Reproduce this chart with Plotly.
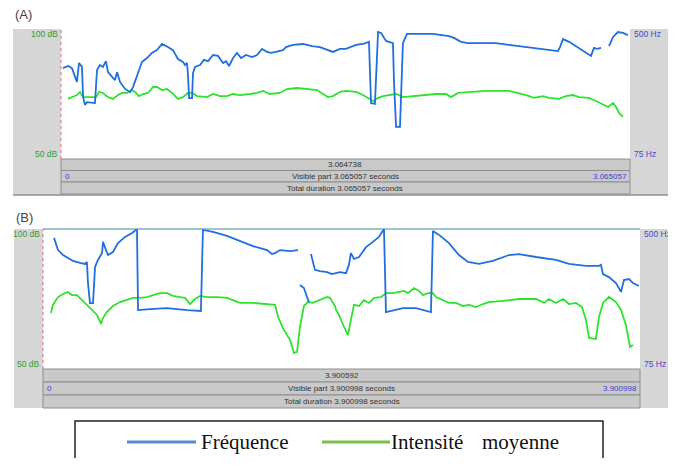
import plotly.graph_objects as go

# The page body has an 8px default margin, so the figure is sized to fit inside the window.
OFF = 8
FW, FH = 662, 450

# ---------------- Panel A data ----------------
a_freq_t = [0.011, 0.038, 0.059, 0.081, 0.086, 0.097, 0.113, 0.119, 0.129, 0.140, 0.183, 0.194, 0.210, 0.226,
            0.242, 0.253, 0.280, 0.291, 0.302, 0.318, 0.345, 0.372, 0.388, 0.409, 0.436, 0.463, 0.490, 0.517,
            0.544, 0.576, 0.603, 0.630, 0.657, 0.668, 0.679, 0.684, 0.690, 0.706, 0.711, 0.722, 0.749, 0.770,
            0.792, 0.819, 0.846, 0.873, 0.889, 0.905, 0.927, 0.948, 0.970, 0.997, 1.029, 1.056, 1.083, 1.110,
            1.131, 1.158, 1.196, 1.212, 1.250, 1.304, 1.352, 1.395, 1.433, 1.465, 1.503, 1.535, 1.589, 1.627,
            1.659, 1.670, 1.691, 1.708, 1.724, 1.751, 1.788, 1.794, 1.805, 1.826, 1.842, 1.864, 1.929, 2.004,
            2.090, 2.117, 2.155, 2.192, 2.252, 2.343, 2.413, 2.505, 2.596, 2.629, 2.677, 2.688, 2.704, 2.737,
            2.790, 2.844, 2.855, 2.871, 2.887, 2.909, 2.930, 2.952, 2.974, 3.000, 3.027, 3.054]
a_freq_hz = [372, 379, 372, 333, 327, 389, 376, 278, 252, 261, 258, 366, 382, 376,
             395, 359, 340, 333, 359, 327, 304, 294, 310, 343, 392, 405, 422, 431,
             451, 441, 431, 402, 392, 382, 389, 350, 274, 274, 356, 376, 382, 399,
             395, 415, 412, 389, 395, 379, 405, 422, 405, 415, 408, 415, 435, 425,
             422, 425, 431, 441, 448, 451, 444, 441, 431, 425, 435, 435, 448, 451,
             458, 258, 255, 490, 487, 461, 454, 323, 180, 180, 454, 484, 484, 484,
             477, 471, 458, 454, 454, 454, 448, 441, 435, 431, 428, 441, 467, 458,
             438, 415, 412, 438, 435, 438, None, 444, 474, 490, 487, 480]

a_int_t = [0.038, 0.065, 0.086, 0.102, 0.119, 0.156, 0.189, 0.205, 0.226, 0.253, 0.280, 0.307, 0.329, 0.356,
           0.382, 0.399, 0.420, 0.442, 0.469, 0.496, 0.517, 0.544, 0.571, 0.598, 0.630, 0.657, 0.684, 0.706,
           0.733, 0.786, 0.819, 0.857, 0.894, 0.927, 0.964, 1.018, 1.056, 1.088, 1.126, 1.180, 1.217, 1.271,
           1.325, 1.379, 1.411, 1.438, 1.465, 1.503, 1.535, 1.589, 1.627, 1.659, 1.681, 1.708, 1.735, 1.767,
           1.805, 1.842, 1.912, 2.020, 2.074, 2.101, 2.139, 2.198, 2.289, 2.413, 2.505, 2.548, 2.596, 2.629,
           2.683, 2.720, 2.758, 2.790, 2.844, 2.882, 2.920, 2.947, 2.974, 2.990, 3.006, 3.027]
a_int_db = [73.1, 73.8, 74.6, 75.8, 73.8, 73.8, 73.8, 75.8, 75.4, 73.8, 73.1, 74.6, 75.4, 75.4,
            76.5, 75.8, 74.2, 75.0, 75.4, 77.7, 77.7, 76.5, 76.9, 75.4, 73.1, 73.8, 75.4, 75.4,
            74.2, 73.8, 75.0, 74.2, 74.2, 75.0, 74.6, 75.0, 75.4, 76.2, 75.0, 75.4, 76.9, 77.3,
            76.9, 76.5, 75.0, 73.8, 74.2, 75.8, 76.2, 75.8, 74.6, 73.1, 72.3, 73.5, 74.2, 74.6,
            75.0, 73.8, 74.2, 75.0, 75.0, 73.8, 75.4, 75.8, 76.2, 76.2, 74.6, 73.5, 74.2, 73.5,
            73.1, 74.2, 74.6, 73.8, 73.5, 72.3, 70.8, 70.0, 71.5, 70.0, 67.7, 66.2]

# ---------------- Panel B data ----------------
b_freq_t = [0.072, 0.098, 0.131, 0.196, 0.242, 0.274, 0.287, 0.294, 0.307, 0.327, 0.340, 0.359, 0.386, 0.392,
            0.412, 0.425, 0.457, 0.490, 0.536, 0.582, 0.614, 0.621, 0.699, 0.810, 0.941, 1.032, 1.045, 1.111,
            1.202, 1.287, 1.372, 1.464, 1.496, 1.516, 1.549, 1.614, 1.666, 1.672,
            1.679, 1.705, 1.725, 1.738, 1.745,
            1.751, 1.777, 1.810, 1.856, 1.888, 1.941, 1.980, 1.999, 2.012, 2.032, 2.065, 2.111, 2.156, 2.195,
            2.228, 2.241, 2.352, 2.437, 2.535, 2.548, 2.588, 2.653, 2.718, 2.777, 2.849, 2.940, 3.045, 3.110,
            3.221, 3.352, 3.437, 3.548, 3.633, 3.646, 3.659, 3.698, 3.744, 3.777, 3.796, 3.829, 3.855, 3.875, 3.894]
b_freq_hz = [473, 436, 421, 403, 397, 394, 400, 336, 275, 275, 385, 406, 427, 461,
             436, 421, 430, 457, 476, 488, 500, 254, 257, 260, 254, 251, 497, 491,
             479, 464, 448, 436, 424, 427, 436, 433, 436, None,
             330, 321, 294, 278, None,
             424, 376, 372, 369, 363, 369, 366, 391, 427, 409, 415, 445, 461, 476,
             500, 248, 260, 260, 248, 494, 482, 457, 421, 400, 394, 403, 421, 424,
             415, 406, 394, 388, 388, 391, 363, 354, 336, 309, 345, 348, 336, 330, 327]

b_int_t = [0.052, 0.065, 0.098, 0.131, 0.163, 0.189, 0.222, 0.255, 0.287, 0.320, 0.353, 0.379, 0.392, 0.418,
           0.457, 0.503, 0.549, 0.588, 0.634, 0.680, 0.719, 0.765, 0.810, 0.849, 0.895, 0.928, 0.961, 0.993,
           1.026, 1.072, 1.137, 1.202, 1.241, 1.287, 1.372, 1.464, 1.516, 1.536, 1.568, 1.614, 1.640, 1.660,
           1.679, 1.705, 1.731, 1.764, 1.810, 1.856, 1.875, 1.908, 1.915, 1.934, 1.967, 1.993, 2.012, 2.032,
           2.065, 2.097, 2.130, 2.163, 2.209, 2.241, 2.287, 2.326, 2.359, 2.385, 2.424, 2.457, 2.483, 2.516,
           2.548, 2.568, 2.614, 2.653, 2.699, 2.744, 2.784, 2.829, 2.875, 2.914, 3.006, 3.110, 3.221, 3.274,
           3.306, 3.352, 3.398, 3.437, 3.483, 3.522, 3.548, 3.568, 3.613, 3.633, 3.659, 3.698, 3.744, 3.777,
           3.809, 3.836, 3.855]
b_int_db = [70.0, 72.9, 75.7, 76.8, 77.5, 76.4, 76.4, 74.6, 72.9, 71.1, 69.3, 66.1, 68.2, 70.4,
            72.5, 73.9, 74.6, 75.4, 75.4, 75.7, 76.4, 77.1, 77.1, 76.1, 75.7, 75.4, 73.2, 75.0,
            76.1, 75.7, 75.7, 75.4, 74.6, 73.6, 73.6, 73.2, 72.9, 68.6, 64.6, 60.4, 55.7, 56.1,
            65.0, 72.5, 73.9, 73.6, 74.6, 75.7, 75.4, 72.5, 71.1, 69.3, 65.0, 62.1, 67.5, 72.9,
            72.5, 74.6, 73.6, 75.4, 75.7, 77.1, 77.1, 77.5, 77.9, 77.1, 78.9, 77.9, 76.4, 77.1,
            77.1, 75.7, 74.6, 73.6, 73.6, 72.5, 72.9, 72.1, 73.2, 73.9, 74.3, 75.0, 75.0, 73.6,
            75.0, 73.6, 75.0, 73.2, 73.6, 72.1, 67.5, 61.1, 60.7, 68.6, 73.6, 75.7, 73.9, 71.1,
            65.7, 57.9, 58.6]

# ---------------- texts ----------------
a_bar_texts = ["3.064738", "Visible part 3.065057 seconds", "Total duration 3.065057 seconds"]
a_start, a_end = "0", "3.065057"
b_bar_texts = ["3.900592", "Visible part 3.900998 seconds", "Total duration 3.900998 seconds"]
b_start, b_end = "0", "3.900998"
db_labels = ["100 dB", "50 dB"]
hz_labels = ["500 Hz", "75 Hz"]
legend_names = ["Fréquence", "Intensité", "moyenne"]

A_DUR, B_DUR = 3.065057, 3.900998
BLUE = "#1f6fe0"
GREEN = "#2ee22e"

def px(x):
    return (x - OFF) / FW

def py(y):
    return 1 - (y - OFF) / FH

fig = go.Figure()
fig.add_trace(go.Scatter(x=a_int_t, y=a_int_db, mode="lines", line=dict(color=GREEN, width=1.8),
                         xaxis="x", yaxis="y", showlegend=False))
fig.add_trace(go.Scatter(x=a_freq_t, y=a_freq_hz, mode="lines", line=dict(color=BLUE, width=1.8),
                         xaxis="x", yaxis="y2", showlegend=False, connectgaps=False))
fig.add_trace(go.Scatter(x=b_int_t, y=b_int_db, mode="lines", line=dict(color=GREEN, width=1.8),
                         xaxis="x2", yaxis="y3", showlegend=False))
fig.add_trace(go.Scatter(x=b_freq_t, y=b_freq_hz, mode="lines", line=dict(color=BLUE, width=1.8),
                         xaxis="x2", yaxis="y4", showlegend=False, connectgaps=False))

# panel geometry (window pixels)
A = dict(gx0=13, gx1=670, top=29, pbot=159, px0=61, px1=630, bars=[159, 170.5, 182, 194], gbot=195)
B = dict(gx0=14, gx1=670, top=229, pbot=369, px0=43, px1=640, bars=[369, 382, 395, 408], gbot=408)

ax = dict(visible=False, fixedrange=True)
fig.update_layout(
    width=FW, height=FH, margin=dict(l=0, r=0, t=0, b=0),
    paper_bgcolor="white", plot_bgcolor="rgba(0,0,0,0)",
    xaxis=dict(ax, domain=[px(A["px0"]), px(A["px1"])], range=[0, A_DUR]),
    yaxis=dict(ax, domain=[py(A["pbot"]), py(A["top"])], range=[50, 100]),
    yaxis2=dict(ax, overlaying="y", range=[75, 500]),
    xaxis2=dict(ax, domain=[px(B["px0"]), px(B["px1"])], range=[0, B_DUR], anchor="y3"),
    yaxis3=dict(ax, domain=[py(B["pbot"]), py(B["top"])], range=[50, 100], anchor="x2"),
    yaxis4=dict(ax, overlaying="y3", range=[75, 500], anchor="x2"),
)

shapes = []
annots = []
LABEL_FONT = "Liberation Sans, Arial, sans-serif"

def rect(x0, y0, x1, y1, fill, line=None, lw=0):
    shapes.append(dict(type="rect", xref="paper", yref="paper", x0=px(x0), x1=px(x1), y0=py(y1), y1=py(y0),
                       fillcolor=fill, line=dict(color=line or fill, width=lw), layer="below"))

def text(x, y, s, color="#333333", anchor="center", size=8.5, font=LABEL_FONT):
    annots.append(dict(xref="paper", yref="paper", x=px(x), y=py(y), text=s, showarrow=False,
                       xanchor=anchor, yanchor="middle", font=dict(family=font, size=size, color=color)))

def panel(P, bar_texts, start, end, top_line):
    rect(P["gx0"], P["top"], P["gx1"], P["gbot"], "#d6d6d6")
    rect(P["px0"], P["top"], P["px1"], P["pbot"], "#ffffff")
    b = P["bars"]
    for i in range(3):
        rect(P["px0"], b[i], P["px1"], b[i + 1], "#c9c9c9", "#8e8e8e", 1)
    shapes.append(dict(type="line", xref="paper", yref="paper", x0=px(P["px0"]), x1=px(P["px0"]),
                       y0=py(P["pbot"]), y1=py(P["top"]), line=dict(color="#e07070", width=1, dash="dot")))
    if top_line:
        shapes.append(dict(type="line", xref="paper", yref="paper", x0=px(P["px0"]), x1=px(P["px1"]),
                           y0=py(P["top"]), y1=py(P["top"]), line=dict(color="#3f8a98", width=1)))
    cx = (P["px0"] + P["px1"]) / 2
    for i in range(3):
        text(cx, (b[i] + b[i + 1]) / 2, bar_texts[i], color="#333333", size=8)
    text(P["px0"] + 2, (b[1] + b[2]) / 2, start, color="#4040d0", anchor="left", size=8)
    text(P["px1"] - 1, (b[1] + b[2]) / 2, end, color="#4040d0", anchor="right", size=8)
    text(P["px0"] - 1, P["top"] + 5, db_labels[0], color="#2ea02e", anchor="right")
    text(P["px0"] - 1, P["pbot"] - 5, db_labels[1], color="#2ea02e", anchor="right")
    text(P["px1"] + 2, P["top"] + 5, hz_labels[0], color="#4848d0", anchor="left")
    text(P["px1"] + 2, P["pbot"] - 5, hz_labels[1], color="#4848d0", anchor="left")

panel(A, a_bar_texts, a_start, a_end, False)
shapes.append(dict(type="line", xref="paper", yref="paper", x0=px(A["gx0"]), x1=px(A["gx1"]),
                   y0=py(A["gbot"]), y1=py(A["gbot"]), line=dict(color="#909090", width=1.5)))
panel(B, b_bar_texts, b_start, b_end, True)

text(13, 15, "(A)", color="#444444", anchor="left", size=13)
text(14, 217, "(B)", color="#444444", anchor="left", size=13)

# legend box (extends past the bottom edge, as in the reference)
shapes.append(dict(type="rect", xref="paper", yref="paper", x0=px(75), x1=px(603), y0=py(480), y1=py(421),
                   line=dict(color="#222222", width=1.5), fillcolor="rgba(0,0,0,0)"))
shapes.append(dict(type="line", xref="paper", yref="paper", x0=px(127), x1=px(196), y0=py(442), y1=py(442),
                   line=dict(color="#5a8ad2", width=3)))
shapes.append(dict(type="line", xref="paper", yref="paper", x0=px(322), x1=px(390), y0=py(442), y1=py(442),
                   line=dict(color="#78c048", width=3)))
SERIF = "Liberation Serif, Times New Roman, serif"
text(199, 442, legend_names[0], color="#111111", anchor="left", size=21, font=SERIF)
text(389, 442, legend_names[1], color="#111111", anchor="left", size=21, font=SERIF)
text(480, 442, legend_names[2], color="#111111", anchor="left", size=21, font=SERIF)

fig.update_layout(shapes=shapes, annotations=annots)
fig.write_html("out.html")
